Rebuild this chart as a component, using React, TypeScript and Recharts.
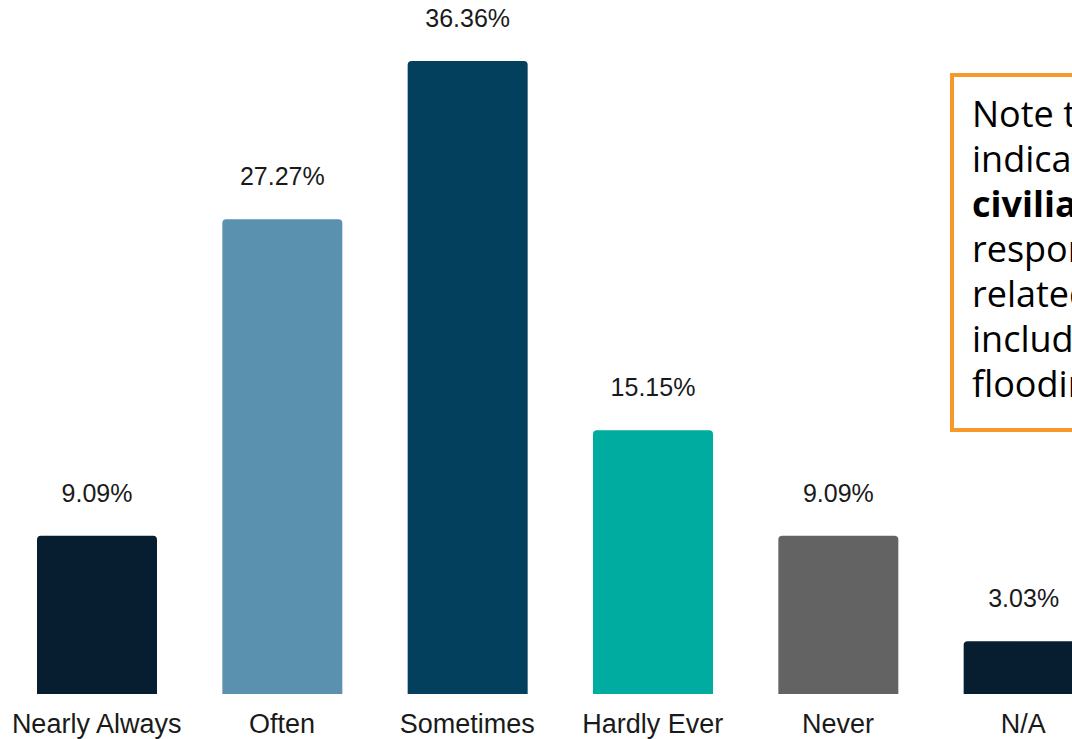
import React from "react";
import { BarChart, Bar, XAxis, YAxis, Cell, LabelList } from "recharts";

const categories = ["Nearly Always", "Often", "Sometimes", "Hardly Ever", "Never", "N/A"];
const values = [9.09, 27.27, 36.36, 15.15, 9.09, 3.03];
const colors = ["#061E30", "#5A91AE", "#02405D", "#00ACA0", "#636363", "#061E30"];
const noteLines = ["Note that", "indicated", "civilians", "responders", "related", "including", "flooding"];
const boldLines = [2];

const data = categories.map((c, i) => ({ category: c, value: values[i] }));

const FONT = "'Liberation Sans', Arial, sans-serif";

const CategoryTick = (props: any) => {
  const { x, y, payload } = props;
  return (
    <text x={x} y={y + 39} textAnchor="middle" fontFamily={FONT} fontSize={27} fill="#1a1a1a">
      {payload.value}
    </text>
  );
};

export default function App() {
  return (
    <div
      style={{
        position: "fixed",
        left: 0,
        top: 0,
        width: 1072,
        height: 739,
        overflow: "hidden",
        background: "#ffffff",
      }}
    >
      <BarChart
        width={1120}
        height={739}
        data={data}
        margin={{ top: 61, right: 4, left: 4, bottom: 0 }}
      >
        <XAxis
          dataKey="category"
          axisLine={false}
          tickLine={false}
          tickSize={0}
          tickMargin={0}
          height={45}
          interval={0}
          tick={<CategoryTick />}
        />
        <YAxis hide domain={[0, 36.36]} allowDataOverflow />
        <Bar dataKey="value" barSize={120} radius={[4, 4, 0, 0]} isAnimationActive={false}>
          {data.map((d, i) => (
            <Cell key={d.category} fill={colors[i]} />
          ))}
          <LabelList
            dataKey="value"
            position="top"
            offset={34}
            fontFamily={FONT}
            fontSize={25}
            fill="#1a1a1a"
            formatter={(v: any) => `${Number(v).toFixed(2)}%`}
          />
        </Bar>
      </BarChart>
      <div
        style={{
          position: "absolute",
          left: 950,
          top: 73,
          width: 320,
          height: 337,
          border: "4px solid #F7982B",
          background: "#ffffff",
          boxSizing: "content-box",
          padding: "14px 0 0 18px",
          fontFamily: "'Open Sans', sans-serif",
          fontSize: 36,
          lineHeight: "45px",
          color: "#000000",
          whiteSpace: "nowrap",
        }}
      >
        {noteLines.map((line, i) => (
          <div key={i} style={{ fontWeight: boldLines.includes(i) ? 700 : 400 }}>
            {line}
          </div>
        ))}
      </div>
    </div>
  );
}
